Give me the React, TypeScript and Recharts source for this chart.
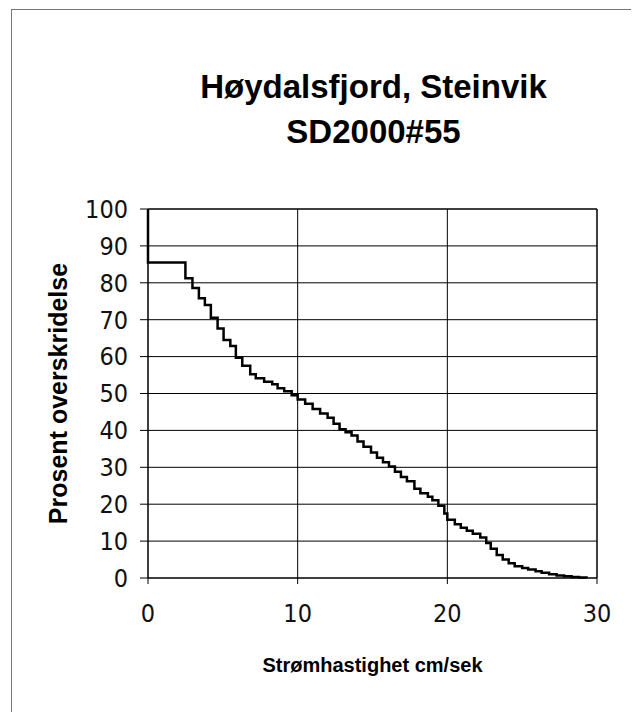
import { LineChart, Line, XAxis, YAxis, CartesianGrid, ReferenceLine } from 'recharts';

// current speed (cm/s) where each step starts, and exceedance % after it
const speeds = [
  0, 0, 2.5, 2.97, 3.4, 3.8, 4.2, 4.65, 5.05, 5.5, 5.87, 6.3, 6.83, 7.2, 7.76, 8.3, 8.66,
  9.1, 9.6, 10.0, 10.5, 11.0, 11.5, 12.0, 12.4, 12.8, 13.2, 13.6, 14.0, 14.4, 14.9, 15.3,
  15.7, 16.1, 16.5, 16.9, 17.3, 17.8, 18.2, 18.7, 19.0, 19.4, 19.8, 20.0, 20.5, 20.9, 21.3,
  21.7, 22.2, 22.6, 22.9, 23.3, 23.7, 24.1, 24.5, 25.0, 25.4, 25.9, 26.3, 26.8, 27.3, 27.8,
  28.3, 28.8, 29.3,
];
const exceedance = [
  100, 85.5, 81.2, 78.6, 75.8, 74.0, 70.5, 67.6, 64.5, 62.9, 59.7, 57.5, 55.2, 54.1, 53.2, 52.5, 51.4,
  50.6, 49.5, 48.4, 47.2, 45.8, 44.6, 43.4, 41.8, 40.3, 39.5, 38.6, 37.0, 35.6, 34.0, 32.6,
  31.4, 30.2, 28.8, 27.4, 26.2, 24.2, 23.0, 22.0, 21.1, 19.6, 17.5, 15.8, 14.6, 13.6, 12.8,
  12.0, 11.0, 9.5, 7.9, 6.2, 5.0, 4.0, 3.2, 2.7, 2.3, 1.8, 1.4, 1.0, 0.7, 0.5,
  0.3, 0.15, 0,
];
const xTicks = [0, 10, 20, 30];
const yTicks = [0, 10, 20, 30, 40, 50, 60, 70, 80, 90, 100];

const data = speeds.map((s, i) => ({ s, p: exceedance[i] }));

const tickFont = "'DejaVu Sans Condensed', 'DejaVu Sans', sans-serif";
const boldFont = "'Liberation Sans', Arial, sans-serif";

export default function App() {
  return (
    <div style={{ position: 'relative', width: 631, height: 704, background: '#fff' }}>
      <div style={{ position: 'absolute', left: 3, top: 1, right: -8, bottom: -8, borderLeft: '1px solid #777', borderTop: '1px solid #777' }} />
      <div style={{ position: 'absolute', left: 0, width: 731, top: 56, textAlign: 'center', fontFamily: boldFont, fontWeight: 'bold', fontSize: 33, lineHeight: '45px', color: '#000' }}>
        Høydalsfjord, Steinvik<br />SD2000#55
      </div>
      <LineChart
        width={631}
        height={704}
        data={data}
        margin={{ top: 201, right: 42, bottom: 94, left: 80 }}
      >
        <CartesianGrid stroke="#000" strokeWidth={1} vertical={true} horizontal={true} />
        <ReferenceLine y={100} stroke="#000" />
        <ReferenceLine x={30} stroke="#000" />
        <XAxis
          dataKey="s"
          type="number"
          domain={[0, 30]}
          ticks={xTicks}
          height={40}
          tickSize={6}
          tickMargin={20}
          axisLine={{ stroke: '#000' }}
          tickLine={{ stroke: '#000' }}
          tick={{ fill: '#111', fontFamily: tickFont, fontWeight: 200, fontSize: 25 }}
          label={{ value: 'Strømhastighet cm/sek', position: 'insideBottom', offset: -54, fill: '#000', fontFamily: boldFont, fontWeight: 'bold', fontSize: 20 }}
        />
        <YAxis
          type="number"
          domain={[0, 100]}
          ticks={yTicks}
          width={60}
          tickSize={8}
          tickMargin={12}
          axisLine={{ stroke: '#000' }}
          tickLine={{ stroke: '#000' }}
          tick={{ fill: '#111', fontFamily: tickFont, fontWeight: 200, fontSize: 25 }}
          label={{ value: 'Prosent overskridelse', angle: -90, position: 'insideLeft', offset: -30, style: { textAnchor: 'middle' }, fill: '#000', fontFamily: boldFont, fontWeight: 'bold', fontSize: 25 }}
        />
        <Line
          type="stepAfter"
          dataKey="p"
          stroke="#000"
          strokeWidth={2.5}
          dot={false}
          isAnimationActive={false}
        />
      </LineChart>
    </div>
  );
}
